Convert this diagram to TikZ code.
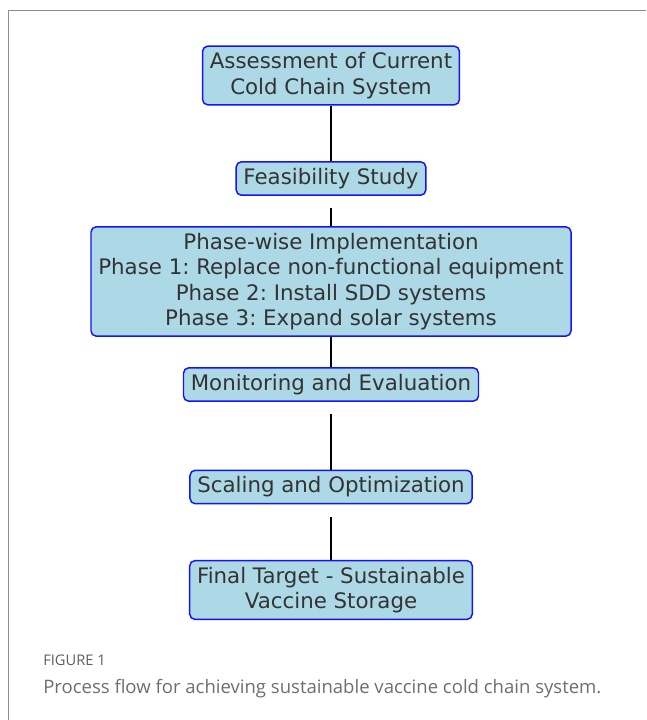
\documentclass[tikz,border=0pt]{standalone}
\usepackage{fontspec}
\setmainfont{DejaVu Sans}
\newfontfamily\capfont{Open Sans}
\usepackage{xcolor}
\usepackage{tikz}
\frenchspacing

\definecolor{boxfill}{RGB}{173,216,230}
\definecolor{boxline}{RGB}{20,20,250}
\definecolor{boxtext}{RGB}{51,51,51}
\definecolor{framegray}{RGB}{140,140,140}
\definecolor{capgray}{RGB}{110,110,110}

\tikzset{
  flowbox/.style={draw=boxline, fill=boxfill, line width=1.1pt, rounded corners=4pt,
    text=boxtext, align=center, inner xsep=5.5pt, inner ysep=4.8pt,
    font=\fontsize{16}{19}\selectfont},
  link/.style={line width=1.5pt, black}
}

\begin{document}
\begin{tikzpicture}[x=0.75pt,y=0.75pt,yscale=-1,xscale=1]
\useasboundingbox (0,0) rectangle (646,720);

%Frame
\draw [framegray, line width=0.75pt] (8,720) -- (8,11) -- (646,11) ;

% Boxes
\node [flowbox] (assess) at (331,75.5) {Assessment of Current\\Cold Chain System};
\node [flowbox] (feas) at (331,178.5) {Feasibility Study};
\node [flowbox] (phase) at (331,281.5) {Phase-wise Implementation\\Phase 1: Replace non-functional equipment\\Phase 2: Install SDD systems\\Phase 3: Expand solar systems};
\node [flowbox] (monitor) at (331,384.5) {Monitoring and Evaluation};
\node [flowbox] (scale) at (331,487) {Scaling and Optimization};
\node [flowbox] (final) at (331,590) {Final Target - Sustainable\\Vaccine Storage};

% Links
\draw [link] (assess.south) -- (feas.north) ;
\draw [link, shorten <=9pt] (feas.south) -- (phase.north) ;
\draw [link] (phase.south) -- (monitor.north) ;
\draw [link, shorten <=9pt] (monitor.south) -- (scale.north) ;
\draw [link, shorten <=9.5pt] (scale.south) -- (final.north) ;

% Caption
\node [anchor=base west, inner sep=0pt, text=capgray!85!black, font=\capfont\fontsize{11}{13}\selectfont] (figlabel) at (43,665) {FIGURE 1};
\node [anchor=base west, inner sep=0pt, text=capgray, font=\capfont\fontsize{13.9}{16}\selectfont] (figcaption) at (43,693) {Process flow for achieving sustainable vaccine cold chain system.};

\end{tikzpicture}
\end{document}
